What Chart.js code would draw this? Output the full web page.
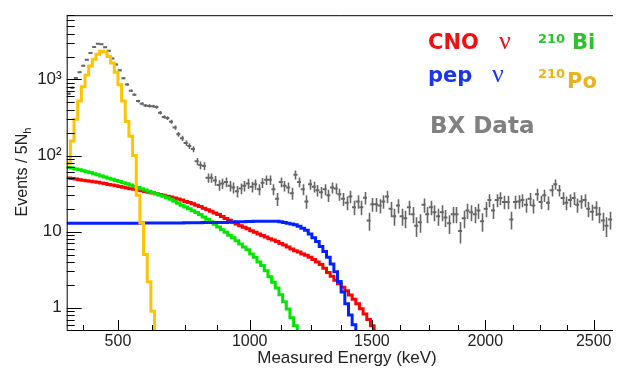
<!DOCTYPE html>
<html>
<head>
<meta charset="utf-8">
<script src="https://cdn.jsdelivr.net/npm/chart.js@4.4.1/dist/chart.umd.min.js"></script>
<style>
  html, body { margin: 0; padding: 0; background: #fff; }
  canvas { display: block; }
</style>
</head>
<body>
<canvas id="spectrum" width="619" height="368"></canvas>
<script>
/* ── Binning (x axis is Nh, bins of 5 Nh) ─────── */
const BIN_START = 150;
const BIN_WIDTH = 5;
const X_MIN = 150;
const X_MAX = 896.4;

/* ── Energy ticks: Nh position and label ──────── */
const X_TICK_NH    = [172, 220, 266, 311, 356, 400, 443, 484, 525, 567, 606, 645, 684, 722, 760, 797, 834, 870];
const X_TICK_LABEL = ['', '500', '', '', '', '1000', '', '', '', '1500', '', '', '', '2000', '', '', '', '2500'];

/* ── Y ticks (log) ────────────────────────────── */
const Y_MAJOR       = [1, 10, 100, 1000];
const Y_MAJOR_LABEL = ['1', '10', '10²', '10³'];
const Y_MINOR = [0.6, 0.7, 0.8, 0.9, 2, 3, 4, 5, 6, 7, 8, 9, 20, 30, 40, 50, 60, 70, 80, 90,
                 200, 300, 400, 500, 600, 700, 800, 900, 2000, 3000, 4000, 5000, 6000, 7000];

/* ── Borexino data, events per bin ────────────── */
const bxData = [
  650, 780, 1050, 1250, 1520, 1820, 2230, 2680, 2950, 2900,
  2660, 2380, 1890, 1580, 1320, 1040, 860, 710, 630, 520,
  480, 455, 450, 445, 435, 365, 322, 312, 278, 234,
  190, 169, 146, 134, 122, 84, 75, 73, 51, 51,
  47, 41, 43, 45, 40, 38, 34, 37, 40, 43,
  39, 42, 36, 44, 48, 48, 36, 27, 45, 40,
  38, 32, 56, 45, 36, 25, 42, 39, 35, 33,
  36, 30, 38, 37, 31, 27, 24, 29, 21, 25,
  21, 28, 14, 23, 23, 22, 25, 29, 20, 16,
  22, 16, 15, 21, 17, 12, 13.3, 22.5, 17, 21,
  18, 16, 18, 15.4, 12.9, 17, 17, 10.2, 15, 19,
  18, 17, 19, 13.7, 20, 26, 19, 26, 27.6, 24.6,
  24.6, 14.5, 24.6, 25, 26, 22.5, 27, 22, 31, 24.6,
  30, 24, 35, 42, 35, 27.6, 24, 26, 27.6, 22.5,
  25, 26, 20, 18.3, 20.6, 17, 14, 12, 14.5,
];

/* ── Fit components, events per bin ───────────── */
const po210 = [79, 155, 300, 520, 800, 1150, 1500, 1850, 2150, 2350,
  2300, 2000, 1650, 1250, 850, 520, 280, 180, 100, 30,
  13, 5, 2.2, 0.9, 0.4];

const bi210 = [70.5, 68.5, 66.8, 65.0, 63.2, 61.5, 59.8, 57.8, 55.8, 54.0,
  52.2, 50.5, 48.8, 47.1, 45.6, 44.1, 42.6, 41.0, 39.5, 38.0,
  36.6, 35.3, 33.9, 32.6, 31.4, 30.2, 29.1, 28.0, 26.6, 25.1,
  23.6, 22.3, 21.1, 20.0, 18.9, 17.9, 16.8, 15.6, 14.6, 13.5,
  12.5, 11.5, 10.6, 9.8, 9.0, 8.3, 7.6, 6.9, 6.3, 5.8,
  5.1, 4.6, 4.0, 3.6, 3.07, 2.56, 2.16, 1.82, 1.48, 1.20,
  0.96, 0.74, 0.58, 0.45, 0.35];

const cnoNu = [50.8, 49.9, 49.1, 48.3, 47.5, 46.8, 46.0, 45.2, 44.5, 43.6,
  42.8, 41.8, 40.9, 40.1, 39.2, 38.4, 37.5, 36.7, 36.0, 35.2,
  34.4, 33.6, 33.0, 32.3, 31.5, 30.8, 30.0, 29.2, 28.5, 27.6,
  26.9, 26.0, 25.0, 24.1, 23.2, 22.3, 21.4, 20.3, 19.4, 18.5,
  17.6, 16.8, 15.8, 14.9, 14.1, 13.3, 12.6, 12.0, 11.4, 10.9,
  10.3, 9.8, 9.3, 8.9, 8.5, 8.1, 7.8, 7.4, 7.0, 6.7,
  6.3, 5.9, 5.6, 5.4, 5.1, 4.9, 4.6, 4.3, 4.0, 3.7,
  3.3, 2.9, 2.6, 2.3, 2.07, 1.86, 1.67, 1.47, 1.29, 1.13,
  0.97, 0.83, 0.70, 0.58, 0.49];

const pepNu = [12.9, 12.9, 12.9, 12.9, 12.9, 12.9, 12.9, 12.9, 12.9, 12.9,
  12.9, 12.9, 12.9, 12.9, 12.9, 12.9, 12.9, 12.9, 12.9, 12.9,
  13.0, 13.0, 13.0, 13.0, 13.0, 13.0, 13.0, 13.0, 13.0, 13.0,
  13.0, 13.0, 13.1, 13.1, 13.1, 13.1, 13.1, 13.2, 13.2, 13.2,
  13.2, 13.2, 13.2, 13.2, 13.4, 13.4, 13.5, 13.5, 13.5, 13.6,
  13.6, 13.7, 13.7, 13.7, 13.7, 13.7, 13.7, 13.7, 13.5, 13.2,
  12.9, 12.6, 12.3, 11.8, 11.1, 10.4, 9.3, 8.3, 7.4, 6.4,
  5.5, 4.6, 3.77, 2.98, 2.22, 1.61, 1.13, 0.80, 0.60, 0.44];

/* ── Colours ──────────────────────────────────── */
const C_DATA   = '#666666';
const C_CNO    = '#ff0000';
const C_BI     = '#00e600';
const C_PEP    = '#0022ff';
const C_PO     = '#ffc400';
const C_AXIS   = '#000000';
const C_TEXT   = '#222222';

/* ── Helpers ──────────────────────────────────── */
function histPoints(arr) {
  const pts = arr.map((v, i) => ({ x: BIN_START + i * BIN_WIDTH, y: v }));
  pts.push({ x: BIN_START + arr.length * BIN_WIDTH, y: arr[arr.length - 1] });
  return pts;
}

function histDataset(label, arr, color, order) {
  return {
    type: 'line', label, data: histPoints(arr),
    borderColor: color, borderWidth: 3, stepped: true,
    pointRadius: 0, fill: false, tension: 0, order,
  };
}

/* ── Plugin: Poisson error bars for the data ──── */
const errorBars = {
  id: 'errorBars',
  beforeDatasetsDraw(chart) {
    const { ctx, chartArea: a, scales: { x, y } } = chart;
    ctx.save();
    ctx.beginPath();
    ctx.rect(a.left, a.top, a.right - a.left, a.bottom - a.top);
    ctx.clip();
    ctx.strokeStyle = C_DATA;
    ctx.lineWidth = 1.6;
    bxData.forEach((v, i) => {
      const s  = Math.sqrt(v);
      const px = Math.round(x.getPixelForValue(BIN_START + (i + 0.5) * BIN_WIDTH)) + 0.5;
      ctx.beginPath();
      ctx.moveTo(px, y.getPixelForValue(v + s));
      ctx.lineTo(px, y.getPixelForValue(Math.max(v - s, 0.01)));
      ctx.stroke();
    });
    ctx.restore();
  },
};

/* ── Plugin: ROOT style frame, inner ticks, titles, legend ── */
const frame = {
  id: 'frame',
  afterDraw(chart) {
    const { ctx, chartArea: a, scales: { x, y } } = chart;
    ctx.save();
    ctx.strokeStyle = C_AXIS;
    ctx.lineWidth = 1;

    // frame (right side is cut off in the original)
    ctx.beginPath();
    ctx.moveTo(a.right, a.top + 0.5);
    ctx.lineTo(a.left + 0.5, a.top + 0.5);
    ctx.lineTo(a.left + 0.5, a.bottom + 0.5);
    ctx.lineTo(a.right, a.bottom + 0.5);
    ctx.stroke();

    // x ticks, pointing up
    ctx.beginPath();
    X_TICK_NH.forEach((v, i) => {
      const px = Math.round(x.getPixelForValue(v)) + 0.5;
      const len = X_TICK_LABEL[i] ? 10 : 5;
      ctx.moveTo(px, a.bottom);
      ctx.lineTo(px, a.bottom - len);
    });
    // y ticks, pointing right
    Y_MAJOR.forEach(v => {
      const py = Math.round(y.getPixelForValue(v)) + 0.5;
      ctx.moveTo(a.left, py);
      ctx.lineTo(a.left + 15, py);
    });
    Y_MINOR.forEach(v => {
      const py = Math.round(y.getPixelForValue(v)) + 0.5;
      ctx.moveTo(a.left, py);
      ctx.lineTo(a.left + 8, py);
    });
    ctx.stroke();

    // axis titles
    ctx.fillStyle = C_TEXT;
    ctx.font = '17px "Liberation Sans", Arial, sans-serif';
    ctx.textAlign = 'center';
    ctx.textBaseline = 'alphabetic';
    ctx.fillText('Measured Energy (keV)', 347, 363);

    ctx.save();
    ctx.translate(27, 172);
    ctx.rotate(-Math.PI / 2);
    ctx.font = '16px "Liberation Sans", Arial, sans-serif';
    const main = 'Events / 5N';
    const wMain = ctx.measureText(main).width;
    ctx.font = '11px "Liberation Sans", Arial, sans-serif';
    const wSub = ctx.measureText('h').width;
    const x0 = -(wMain + wSub) / 2;
    ctx.textAlign = 'left';
    ctx.font = '16px "Liberation Sans", Arial, sans-serif';
    ctx.fillText(main, x0, 0);
    ctx.font = '11px "Liberation Sans", Arial, sans-serif';
    ctx.fillText('h', x0 + wMain, 4);
    ctx.restore();

    // legend text
    const bold = sz => 'bold ' + sz + 'px "DejaVu Sans", Verdana, sans-serif';
    const nu   = sz => sz + 'px "Liberation Serif", "Times New Roman", serif';
    ctx.textAlign = 'left';

    ctx.fillStyle = '#f01010';
    ctx.font = bold(21);
    ctx.fillText('CNO', 428, 49);
    ctx.font = nu(26);
    ctx.fillText('ν', 499, 49);

    ctx.fillStyle = '#1a35f0';
    ctx.font = bold(21);
    ctx.fillText('pep', 428, 82);
    ctx.font = nu(26);
    ctx.fillText('ν', 492, 82);

    ctx.fillStyle = '#2ec22e';
    ctx.font = bold(13);
    ctx.fillText('210', 538, 43);
    ctx.font = bold(21);
    ctx.fillText('Bi', 572, 49);

    ctx.fillStyle = '#e8b41e';
    ctx.font = bold(13);
    ctx.fillText('210', 538, 78);
    ctx.font = bold(21);
    ctx.fillText('Po', 567, 88);

    ctx.fillStyle = '#808080';
    ctx.font = bold(23);
    ctx.fillText('BX Data', 430, 133);

    ctx.restore();
  },
};

/* ── Chart ────────────────────────────────────── */
const ctx = document.getElementById('spectrum').getContext('2d');

new Chart(ctx, {
  type: 'scatter',
  data: {
    datasets: [
      {
        label: 'BX Data',
        data: bxData.map((v, i) => ({ x: BIN_START + (i + 0.5) * BIN_WIDTH, y: v })),
        pointStyle: 'line',
        pointRadius: 2,
        borderWidth: 2,
        borderColor: C_DATA,
        backgroundColor: C_DATA,
        order: 10,
      },
      histDataset('CNO ν', cnoNu, C_CNO, 5),
      histDataset('210Bi', bi210, C_BI, 4),
      histDataset('pep ν', pepNu, C_PEP, 3),
      histDataset('210Po', po210, C_PO, 1),
    ],
  },
  options: {
    responsive: false,
    animation: false,
    layout: { padding: { top: 5, right: 0, bottom: 0, left: 0 } },
    plugins: {
      legend: { display: false },
      tooltip: { enabled: false },
    },
    scales: {
      x: {
        type: 'linear',
        min: X_MIN,
        max: X_MAX,
        afterFit(s) { s.height = 38; },
        afterBuildTicks(s) { s.ticks = X_TICK_NH.map(v => ({ value: v })); },
        ticks: {
          autoSkip: false,
          maxRotation: 0,
          padding: 2,
          color: C_TEXT,
          font: { family: '"Liberation Sans", Arial, sans-serif', size: 16 },
          callback: (v, i) => X_TICK_LABEL[i],
        },
        grid: { display: false, drawTicks: false },
        border: { display: false },
      },
      y: {
        type: 'logarithmic',
        min: 0.51,
        max: 7000,
        afterFit(s) { s.width = 66.7; },
        afterBuildTicks(s) { s.ticks = Y_MAJOR.map(v => ({ value: v })); },
        ticks: {
          autoSkip: false,
          padding: 5,
          color: C_TEXT,
          font: { family: '"Liberation Sans", Arial, sans-serif', size: 17 },
          callback: (v, i) => Y_MAJOR_LABEL[i],
        },
        grid: { display: false, drawTicks: false },
        border: { display: false },
      },
    },
  },
  plugins: [errorBars, frame],
});
</script>
</body>
</html>
